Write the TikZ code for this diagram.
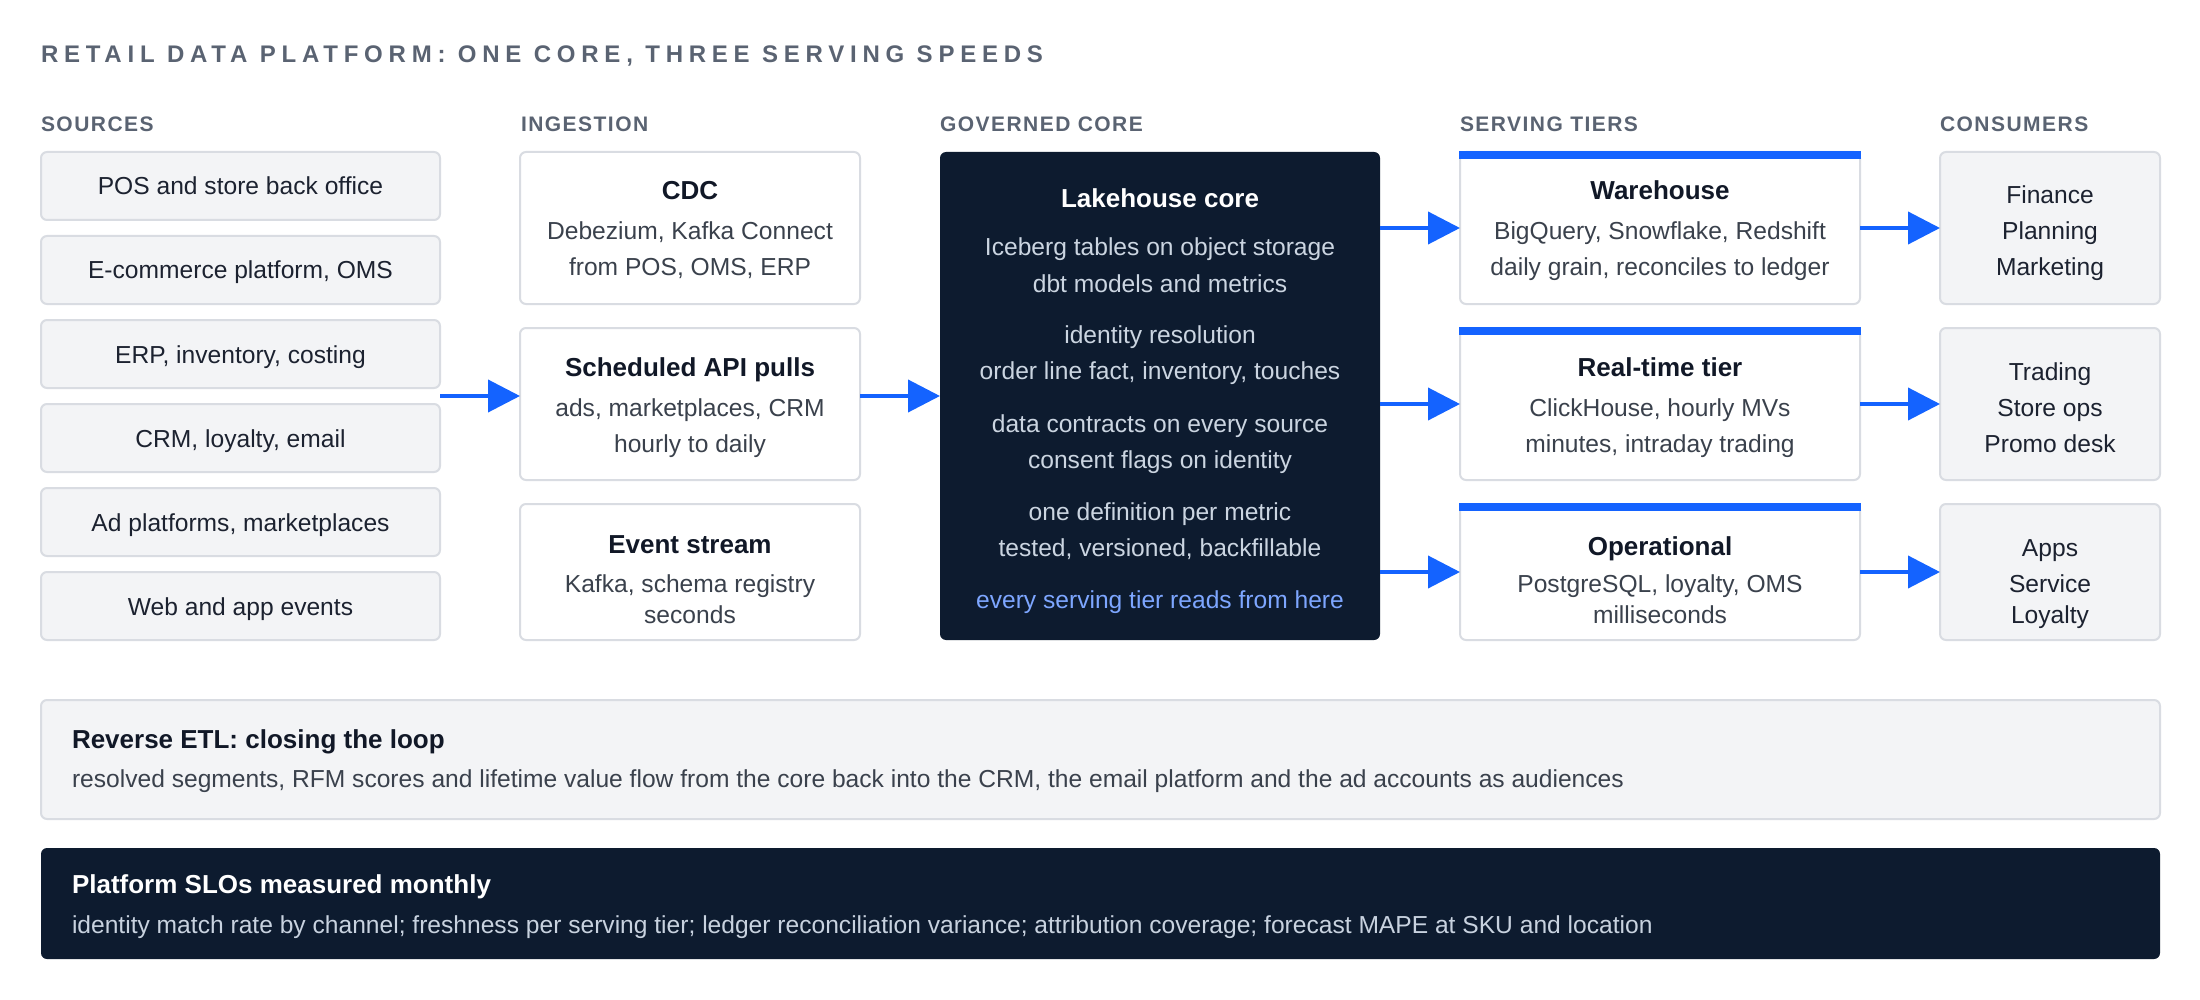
\documentclass[tikz,border=0pt]{standalone}
\usepackage{fontspec}
\setmainfont{Liberation Sans}
\usetikzlibrary{arrows.meta,fit}
\definecolor{navy}{HTML}{0D1B2F}
\definecolor{accent}{HTML}{1463FF}
\definecolor{grayf}{HTML}{F3F4F6}
\definecolor{bordc}{HTML}{D9DCE2}
\definecolor{hdrc}{HTML}{5A6372}
\definecolor{darkc}{HTML}{111827}
\definecolor{srcc}{HTML}{1C2230}
\definecolor{midc}{HTML}{3A414C}
\definecolor{corec}{HTML}{CBD5E1}
\definecolor{linkc}{HTML}{7DA6FF}
\definecolor{sloc}{HTML}{C8D2DF}
\newcommand{\fbody}{\fontsize{24.6pt}{36pt}\selectfont}
\newcommand{\fttl}{\fontsize{26pt}{30pt}\selectfont\bfseries}
\newcommand{\fhdr}{\fontsize{21pt}{24pt}\selectfont\bfseries\addfontfeature{LetterSpace=7}}
\newcommand{\fmaintitle}{\fontsize{24pt}{28pt}\selectfont\bfseries\addfontfeature{LetterSpace=24}}
\tikzset{
  box/.style={rectangle, rounded corners=6pt, line width=2pt, outer sep=0pt, inner sep=0pt},
  graybox/.style={box, draw=bordc, fill=grayf},
  whitebox/.style={box, draw=bordc, fill=white},
  darkbox/.style={box, fill=navy},
  arr/.style={draw=accent, line width=4pt, -{Triangle[length=32pt,width=32pt]}},
  txt/.style={inner sep=0pt, outer sep=0pt, anchor=base},
  ltxt/.style={txt, anchor=base west},
  hdr/.style={ltxt, font=\fhdr, text=hdrc},
  ttl/.style={txt, font=\fttl, text=darkc},
  sub/.style={txt, font=\fbody, text=midc},
  src/.style={txt, font=\fbody, text=srcc},
  cor/.style={txt, font=\fbody, text=corec},
}
\begin{document}
\begin{tikzpicture}[x=1pt, y=-1pt]
\useasboundingbox (0,0) rectangle (2200,1000);
\fill[white] (0,0) rectangle (2200,1000);

% title and column headers
\node[ltxt, font=\fmaintitle, text=hdrc] (title) at (41,63) {RETAIL DATA PLATFORM: ONE CORE, THREE SERVING SPEEDS};
\node[hdr] (hsrc) at (41,132) {SOURCES};
\node[hdr] (hing) at (521,132) {INGESTION};
\node[hdr] (hcore) at (940,132) {GOVERNED CORE};
\node[hdr] (hserv) at (1460,132) {SERVING TIERS};
\node[hdr] (hcons) at (1940,132) {CONSUMERS};

% sources
\foreach \i/\yc/\t in {1/186/POS and store back office, 2/270/{E-commerce platform, OMS}, 3/354/{ERP, inventory, costing}, 4/438/{CRM, loyalty, email}, 5/522/{Ad platforms, marketplaces}, 6/606/Web and app events}{
  \node[graybox, minimum width=399pt, minimum height=68pt] (s\i) at (240.5,\yc) {};
  \node[src] (s\i t) at (240.5,\yc+9) {\t};
}
\node[fit=(s1)(s6), inner sep=0pt, outer sep=0pt] (srccol) {};

% ingestion
\node[whitebox, minimum width=340pt, minimum height=152pt] (cdc) at (690,228) {};
\node[whitebox, minimum width=340pt, minimum height=152pt] (api) at (690,404) {};
\node[whitebox, minimum width=340pt, minimum height=136pt] (evt) at (690,572) {};
\node[ttl] (cdc1) at (690,200) {CDC};
\node[sub] (cdc2) at (690,240) {Debezium, Kafka Connect};
\node[sub] (cdc3) at (690,276) {from POS, OMS, ERP};
\node[ttl] (api1) at (690,376) {Scheduled API pulls};
\node[sub] (api2) at (690,416) {ads, marketplaces, CRM};
\node[sub] (api3) at (690,452) {hourly to daily};
\node[ttl] (evt1) at (690,553) {Event stream};
\node[sub] (evt2) at (690,592) {Kafka, schema registry};
\node[sub] (evt3) at (690,623) {seconds};

% core
\node[darkbox, minimum width=440pt, minimum height=488pt] (core) at (1160,396) {};
\node[ttl, text=white] (core1) at (1160,208) {Lakehouse core};
\node[cor] (core2) at (1160,256) {Iceberg tables on object storage};
\node[cor] (core3) at (1160,292) {dbt models and metrics};
\node[cor] (core4) at (1160,343) {identity resolution};
\node[cor] (core5) at (1160,379) {order line fact, inventory, touches};
\node[cor] (core6) at (1160,432) {data contracts on every source};
\node[cor] (core7) at (1160,468) {consent flags on identity};
\node[cor] (core8) at (1160,520) {one definition per metric};
\node[cor] (core9) at (1160,556) {tested, versioned, backfillable};
\node[cor, text=linkc] (core10) at (1160,608) {every serving tier reads from here};

% serving tiers
\node[whitebox, minimum width=400pt, minimum height=152pt] (wh) at (1660,228) {};
\node[whitebox, minimum width=400pt, minimum height=152pt] (rt) at (1660,404) {};
\node[whitebox, minimum width=400pt, minimum height=136pt] (op) at (1660,572) {};
\foreach \n in {wh,rt,op}{
  \fill[accent] ([xshift=-1pt,yshift=1pt]\n.north west) rectangle ([xshift=1pt,yshift=-7pt]\n.north east);
}
\node[ttl] (wh1) at (1660,200) {Warehouse};
\node[sub] (wh2) at (1660,240) {BigQuery, Snowflake, Redshift};
\node[sub] (wh3) at (1660,276) {daily grain, reconciles to ledger};
\node[ttl] (rt1) at (1660,376) {Real-time tier};
\node[sub] (rt2) at (1660,416) {ClickHouse, hourly MVs};
\node[sub] (rt3) at (1660,452) {minutes, intraday trading};
\node[ttl] (op1) at (1660,555) {Operational};
\node[sub] (op2) at (1660,592) {PostgreSQL, loyalty, OMS};
\node[sub] (op3) at (1660,623) {milliseconds};

% consumers
\node[graybox, minimum width=220pt, minimum height=152pt] (c1) at (2050,228) {};
\node[graybox, minimum width=220pt, minimum height=152pt] (c2) at (2050,404) {};
\node[graybox, minimum width=220pt, minimum height=136pt] (c3) at (2050,572) {};
\node[src] (c1a) at (2050,204) {Finance};
\node[src] (c1b) at (2050,240) {Planning};
\node[src] (c1c) at (2050,276) {Marketing};
\node[src] (c2a) at (2050,380) {Trading};
\node[src] (c2b) at (2050,416) {Store ops};
\node[src] (c2c) at (2050,452) {Promo desk};
\node[src] (c3a) at (2050,556) {Apps};
\node[src] (c3b) at (2050,592) {Service};
\node[src] (c3c) at (2050,623) {Loyalty};

% arrows
\draw[arr] (srccol.east) -- (srccol.east -| api.west);
\draw[arr] (core.west -| api.east) -- (core.west);
\draw[arr] (wh.west -| core.east) -- (wh.west);
\draw[arr] (rt.west -| core.east) -- (rt.west);
\draw[arr] (op.west -| core.east) -- (op.west);
\draw[arr] (wh.east) -- (c1.west);
\draw[arr] (rt.east) -- (c2.west);
\draw[arr] (op.east) -- (c3.west);

% bottom panels
\node[graybox, minimum width=2119pt, minimum height=119pt] (retl) at (1100.5,759.5) {};
\node[ltxt, font=\fttl, text=darkc] (retl1) at (72,748) {Reverse ETL: closing the loop};
\node[ltxt, font=\fbody, text=midc] (retl2) at (72,787) {resolved segments, RFM scores and lifetime value flow from the core back into the CRM, the email platform and the ad accounts as audiences};
\node[darkbox, minimum width=2119pt, minimum height=111pt] (slo) at (1100.5,903.5) {};
\node[ltxt, font=\fttl, text=white] (slo1) at (72,893) {Platform SLOs measured monthly};
\node[ltxt, font=\fbody, text=sloc] (slo2) at (72,933) {identity match rate by channel; freshness per serving tier; ledger reconciliation variance; attribution coverage; forecast MAPE at SKU and location};
\end{tikzpicture}
\end{document}
